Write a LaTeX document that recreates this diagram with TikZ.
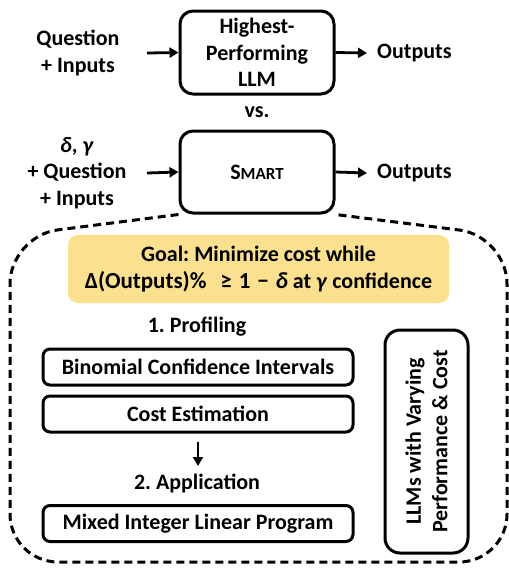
\documentclass[tikz,border=0pt]{standalone}
\usepackage{fontspec}
\setmainfont{Carlito}
\usetikzlibrary{arrows.meta}
\definecolor{goalfill}{HTML}{FAE08F}
\frenchspacing
\begin{document}
\begin{tikzpicture}[x=1pt,y=-1pt,
  every node/.style={font=\fontsize{22}{26.5}\selectfont\bfseries, inner sep=0pt},
  mainbox/.style={draw, line width=3pt, rounded corners=13pt, align=center},
  stepbox/.style={draw, line width=3pt, rounded corners=7pt, minimum width=310pt, minimum height=36pt},
  arr/.style={line width=2.8pt, -{Triangle[length=9pt,width=10pt]}},
  lbl/.style={align=center}
]
\useasboundingbox (0,0) rectangle (509,571);
% top row
\node[mainbox, minimum width=154pt, minimum height=83pt] (llm) at (257,52.5) {Highest-\\Performing\\LLM};
\node[lbl] (in1) at (78,53) {Question\\+ Inputs};
\node[lbl, anchor=west] (out1) at (377,53) {Outputs};
\coordinate (a1) at (147,53);
\coordinate (b1) at (367,53);
\draw[arr] (a1) -- (llm.west);
\draw[arr] (llm.east) -- (b1);
\node (vs) at (257,112) {vs.};
% smart row
\node[mainbox, minimum width=154pt, minimum height=82pt] (smart) at (257,172) {S\fontsize{17}{20}\selectfont MART};
\node[lbl] (in2) at (77,173) {\textit{δ}, \textit{γ}\\+ Question\\+ Inputs};
\node[lbl, anchor=west] (out2) at (377,173) {Outputs};
\coordinate (a2) at (147,173);
\coordinate (b2) at (367,173);
\draw[arr] (a2) -- (smart.west);
\draw[arr] (smart.east) -- (b2);
% dashed outline
\coordinate (c1) at (10,236);
\coordinate (c2) at (10,562);
\coordinate (c3) at (507,562);
\coordinate (c4) at (507,236);
\draw[line width=3pt, dash pattern=on 8pt off 5pt, rounded corners=48pt]
  (smart.south west) -- (c1) -- (c2) -- (c3) -- (c4) -- (smart.south east);
% goal
\node[fill=goalfill, rounded corners=10pt, minimum width=381pt, minimum height=68pt, align=center] (goal) at (258.5,269)
  {Goal: Minimize cost while\\{\fontsize{23}{26.5}\selectfont Δ(Outputs)\%\hspace{0.6em}≥\hspace{0.3em}1\hspace{0.3em}−\hspace{0.3em}\textit{δ}} at \textit{γ} confidence};
% steps
\node (prof) at (197,327) {1. Profiling};
\node[stepbox] (binom) at (198,367) {Binomial Confidence Intervals};
\node[stepbox] (cost) at (198,414) {Cost Estimation};
\coordinate (d1) at (198,442);
\coordinate (d2) at (198,466);
\draw[arr] (d1) -- (d2);
\node (app) at (197,483) {2. Application};
\node[stepbox] (milp) at (198,523.5) {Mixed Integer Linear Program};
\node[draw, line width=3pt, rounded corners=15pt, minimum width=83pt, minimum height=223pt] (llms) at (426.5,441.5) {};
\node[rotate=90, align=center] (llmstxt) at (llms.center) {LLMs with Varying\\Performance \& Cost};
\end{tikzpicture}
\end{document}
